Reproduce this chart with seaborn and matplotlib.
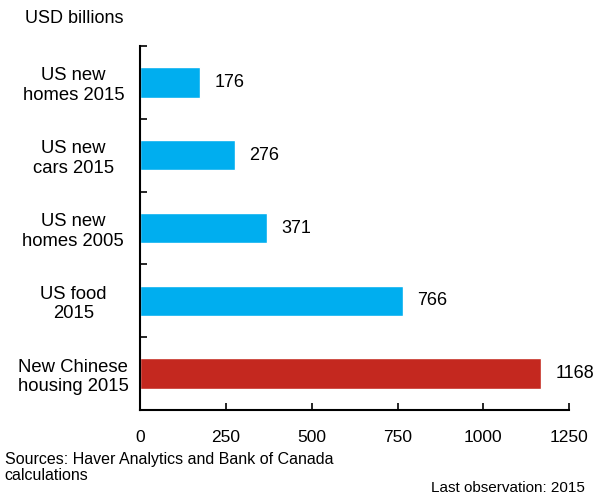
import numpy as np
import pandas as pd
import matplotlib
matplotlib.use("Agg")
import matplotlib.pyplot as plt
import seaborn as sns

sns.set_style("white")
plt.rcParams['font.family'] = ['Liberation Sans', 'DejaVu Sans']
plt.rcParams['text.color'] = 'black'
plt.rcParams['xtick.color'] = 'black'
plt.rcParams['ytick.color'] = 'black'

# data
categories = ['US new\nhomes 2015', 'US new\ncars 2015', 'US new\nhomes 2005',
              'US food\n2015', 'New Chinese\nhousing 2015']
values = [176, 276, 371, 766, 1168]
bar_colors = ['#00AEEF', '#00AEEF', '#00AEEF', '#00AEEF', '#C4281F']
x_ticks = [0, 250, 500, 750, 1000, 1250]

df = pd.DataFrame({'category': categories, 'value': values})

fig = plt.figure(figsize=(6.01, 4.99), dpi=100)
ax = fig.add_axes([0.233, 0.178, 0.714, 0.730])

sns.barplot(data=df, x='value', y='category', hue='category', palette=bar_colors,
            saturation=1, legend=False, width=0.42, ax=ax, orient='h')

for i, v in enumerate(values):
    ax.text(v + 42, i, str(v), va='center', ha='left', fontsize=13)

ax.set_xlim(0, 1250)
ax.set_ylim(len(categories) - 0.5, -0.5)
ax.set_xticks(x_ticks)
ax.set_xticklabels([str(t) for t in x_ticks], fontsize=12.5)
ax.set_yticks(range(len(categories)))
ax.set_yticklabels(categories, fontsize=13.3, ha='center', linespacing=1.2)
ax.tick_params(axis='y', which='major', left=False, length=0, pad=48)
ax.set_yticks(np.arange(-0.5, len(categories)), minor=True)
ax.tick_params(axis='y', which='minor', left=True, direction='in', length=5, width=1.2)
ax.tick_params(axis='x', which='major', bottom=True, direction='in', length=5, width=1.2, pad=14)
ax.set_xlabel('')
ax.set_ylabel('')

sns.despine(ax=ax, top=True, right=True)
for s in ['left', 'bottom']:
    ax.spines[s].set_linewidth(1.5)
    ax.spines[s].set_color('black')

fig.text(0.042, 0.963, 'USD billions', fontsize=13, va='center')
fig.text(0.008, 0.063, 'Sources: Haver Analytics and Bank of Canada\ncalculations',
         fontsize=11.5, va='center', linespacing=1.1)
fig.text(0.974, 0.022, 'Last observation: 2015', fontsize=11, ha='right', va='center')

fig.savefig('out.png', dpi=100)
